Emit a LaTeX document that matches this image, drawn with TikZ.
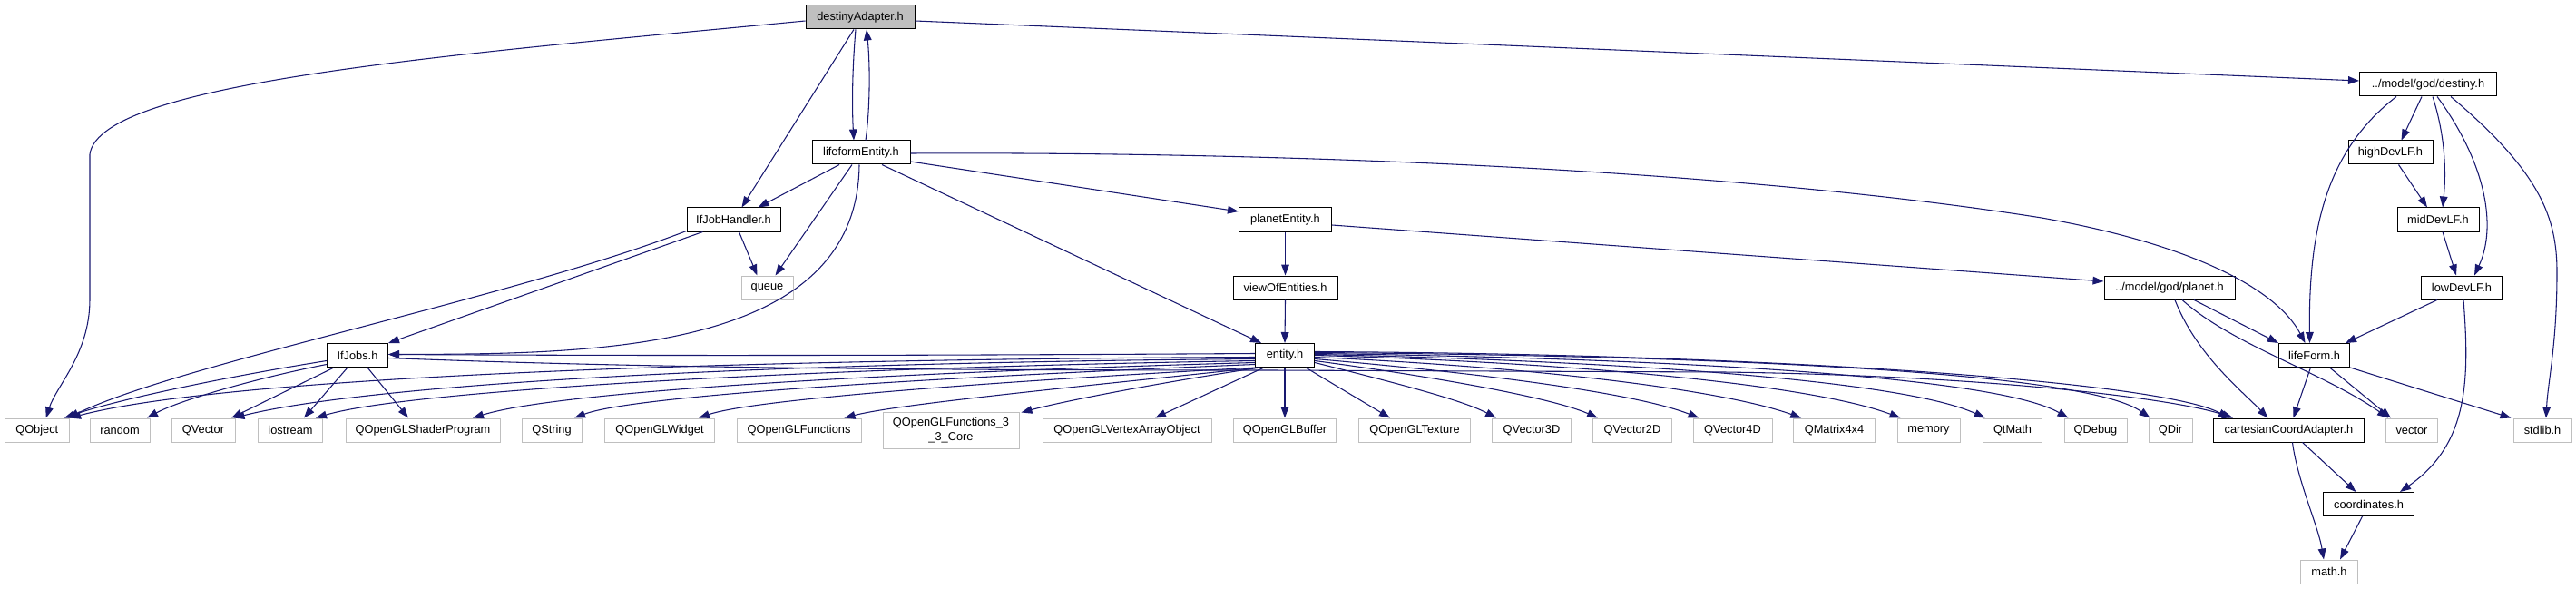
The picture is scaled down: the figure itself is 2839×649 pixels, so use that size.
\documentclass[tikz,border=0pt]{standalone}
\usepackage{fontspec}
\setmainfont{Liberation Sans}
\usetikzlibrary{arrows.meta,calc}
\definecolor{edgeblue}{HTML}{191970}
\definecolor{extgray}{HTML}{BFBFBF}

\begin{document}
\begin{tikzpicture}[x=0.75pt, y=-0.75pt, >={Triangle[length=9pt,width=6.5pt]},
    file/.style={draw=black, line width=0.75pt, minimum height=19.5pt, inner sep=0pt, font=\fontsize{9.6}{11.5}\selectfont},
    sysfile/.style={file, draw=extgray},
    boxw/.style={minimum width=#1*0.75pt},
    dep/.style={->, draw=edgeblue, line width=0.8pt}]
    \useasboundingbox (0,0) rectangle (2839,649);

    \node[file, boxw=120, fill=extgray] (destinyAdapter) at (948,19) {destinyAdapter.h};
    \node[file, boxw=108] (lifeformEntity) at (949,168) {lifeformEntity.h};
    \node[file, boxw=103] (IfJobHandler) at (808.5,242) {IfJobHandler.h};
    \node[sysfile, boxw=57] (queue) at (845.5,317) {queue};
    \node[file, boxw=102] (planetEntity) at (1416.5,242) {planetEntity.h};
    \node[file, boxw=115] (viewOfEntities) at (1416.5,317) {viewOfEntities.h};
    \node[file, boxw=151] (destiny) at (2676,93) {../model/god/destiny.h};
    \node[file, boxw=93] (highDevLF) at (2634.5,168) {highDevLF.h};
    \node[file, boxw=90] (midDevLF) at (2687,242) {midDevLF.h};
    \node[file, boxw=89] (lowDevLF) at (2713,317) {lowDevLF.h};
    \node[file, boxw=144] (planet) at (2391,317) {../model/god/planet.h};
    \node[file, boxw=67] (IfJobs) at (394,391.5) {IfJobs.h};
    \node[file, boxw=65] (entity) at (1416,391.5) {entity.h};
    \node[file, boxw=78] (lifeForm) at (2550.5,391.5) {lifeForm.h};
    \node[file, boxw=166] (cartesianCoordAdapter) at (2522.5,474) {cartesianCoordAdapter.h};
    \node[file, boxw=100] (coordinates) at (2610.5,555.5) {coordinates.h};
    \node[sysfile, boxw=63] (math) at (2567,630) {math.h};
    \node[sysfile, boxw=150, minimum height=30pt, align=center] (QOpenGLFunctionsCore) at (1048,474) {QOpenGLFunctions\_3\\\_3\_Core};
    \foreach \n/\x/\w/\lbl in {QObject/40.8/71.5/QObject, random/132/66/random, QVector/224/70/QVector,
        iostream/320/71/iostream, QOpenGLShaderProgram/466/170/QOpenGLShaderProgram, QString/608/66/QString,
        QOpenGLWidget/727/121/QOpenGLWidget, QOpenGLFunctions/880.5/137/QOpenGLFunctions,
        QOpenGLVertexArrayObject/1242/186/QOpenGLVertexArrayObject, QOpenGLBuffer/1416/113/QOpenGLBuffer,
        QOpenGLTexture/1559/123/QOpenGLTexture, QVector3D/1688/87/QVector3D, QVector2D/1799/87/QVector2D,
        QVector4D/1909.5/87/QVector4D, QMatrix4x4/2021.5/89.5/QMatrix4x4, memory/2125.5/69/memory,
        QtMath/2218/65.5/QtMath, QDebug/2309.5/69/QDebug, QDir/2392/48/QDir, vector/2658/57/vector,
        stdlib/2802/64/stdlib.h}
        \node[sysfile, boxw=\w] (\n) at (\x,474) {\lbl};

    \draw[dep] ($(destinyAdapter.west)+(0,4)$) .. controls (500,60) and (110,90) .. (99,170) -- (99,330)
        .. controls (99,390) and (62,425) .. ($(QObject.north)+(10,0)$);
    \draw[dep] ($(destinyAdapter.south)+(-7,0)$) -- ($(IfJobHandler.north)+(9,0)$);
    \draw[dep] ($(destinyAdapter.south)+(-5,0)$) .. controls (939,80) and (939,120) .. ($(lifeformEntity.north)+(-8,0)$);
    \draw[dep] ($(lifeformEntity.north)+(5,0)$) .. controls (959,120) and (959,70) .. ($(destinyAdapter.south)+(7,0)$);
    \draw[dep] ($(destinyAdapter.east)+(0,4)$) -- ($(destiny.west)+(0,-4)$);

    \draw[dep] ($(lifeformEntity.south)+(-24,0)$) -- ($(IfJobHandler.north)+(27,0)$);
    \draw[dep] ($(lifeformEntity.south)+(-10,0)$) -- ($(queue.north)+(9,0)$);
    \draw[dep] ($(lifeformEntity.south)+(-2,0)$) .. controls (945,390) and (650,390) .. ($(IfJobs.east)+(0,-1)$);
    \draw[dep] ($(lifeformEntity.south)+(23,0)$) -- ($(entity.north)+(-26,0)$);
    \draw[dep] ($(lifeformEntity.east)+(0,10)$) -- ($(planetEntity.west)+(0,-9)$);
    \draw[dep] ($(lifeformEntity.east)+(0,1)$) .. controls (1400,167) and (1900,185) .. (2250,240)
        .. controls (2420,270) and (2510,320) .. ($(lifeForm.north)+(-10,0)$);

    \draw[dep] ($(IfJobHandler.south)+(6,0)$) -- ($(queue.north)+(-11,0)$);
    \draw[dep] ($(IfJobHandler.south west)+(0,-1)$) .. controls (560,330) and (200,400) .. ($(QObject.north)+(34,0)$);
    \draw[dep] ($(IfJobHandler.south)+(-34,0)$) -- (IfJobs.north east);

    \draw[dep] ($(IfJobs.west)+(0,6)$) .. controls (250,415) and (130,440) .. ($(QObject.north)+(30,0)$);
    \draw[dep] ($(IfJobs.west)+(0,10)$) .. controls (290,415) and (200,440) .. ($(random.north)+(30,0)$);
    \draw[dep] ($(IfJobs.south west)+(8,0)$) -- ($(QVector.north)+(31,0)$);
    \draw[dep] ($(IfJobs.south)+(-11,0)$) -- ($(iostream.north)+(15,0)$);
    \draw[dep] ($(IfJobs.south)+(11,0)$) -- ($(QOpenGLShaderProgram.north)+(-16,0)$);
    \draw[dep] ($(IfJobs.east)+(0,3)$) .. controls (700,405) and (1000,408) .. (1400,408) -- (1900,410)
        .. controls (2200,414) and (2400,440) .. ($(cartesianCoordAdapter.north west)+(22,0)$);

    \draw[dep] (planetEntity.south) -- (viewOfEntities.north);
    \draw[dep] ($(planetEntity.east)+(0,6)$) -- ($(planet.west)+(0,-7)$);
    \draw[dep] (viewOfEntities.south) -- (entity.north);

    \draw[dep] ($(entity.west)+(0,-2)$) .. controls (1000,392) and (700,392) .. ($(IfJobs.east)+(0,-1)$);
    \draw[dep] ($(entity.west)+(0,2)$) .. controls (800,396) and (250,415) .. (QObject.north east);
    \draw[dep] ($(entity.west)+(0,4)$) .. controls (800,400) and (400,425) .. ($(QVector.north east)+(-2,0)$);
    \draw[dep] ($(entity.west)+(0,6)$) .. controls (900,405) and (450,430) .. ($(iostream.north east)+(-8,0)$);
    \draw[dep] ($(entity.west)+(0,8)$) .. controls (1000,410) and (620,430) .. ($(QOpenGLShaderProgram.north)+(55,0)$);
    \draw[dep] ($(entity.west)+(0,10)$) .. controls (1050,415) and (700,435) .. ($(QString.north)+(25,0)$);
    \draw[dep] ($(entity.south west)+(2,0)$) .. controls (1100,420) and (830,440) .. ($(QOpenGLWidget.north)+(43,0)$);
    \draw[dep] ($(entity.south west)+(4,0)$) .. controls (1200,425) and (990,445) .. ($(QOpenGLFunctions.north)+(50,0)$);
    \draw[dep] ($(entity.south west)+(6,0)$) .. controls (1300,418) and (1180,440) .. ($(QOpenGLFunctionsCore.north east)+(2,1)$);
    \draw[dep] ($(entity.south west)+(10,0)$) -- ($(QOpenGLVertexArrayObject.north)+(31,0)$);
    \draw[dep] (entity.south) -- (QOpenGLBuffer.north);
    \draw[dep] ($(entity.south east)+(-10,0)$) -- ($(QOpenGLTexture.north west)+(35,0)$);
    \draw[dep] ($(entity.east)+(0,8)$) .. controls (1530,420) and (1610,440) .. ($(QVector3D.north west)+(5,0)$);
    \draw[dep] ($(entity.east)+(0,6)$) .. controls (1580,415) and (1710,438) .. ($(QVector2D.north west)+(6,0)$);
    \draw[dep] ($(entity.east)+(0,4)$) .. controls (1620,410) and (1800,432) .. ($(QVector4D.north west)+(7,0)$);
    \draw[dep] ($(entity.east)+(0,2)$) .. controls (1700,405) and (1900,430) .. ($(QMatrix4x4.north west)+(9,0)$);
    \draw[dep] (entity.east) .. controls (1750,400) and (2000,425) .. ($(memory.north west)+(4,0)$);
    \draw[dep] ($(entity.east)+(0,-1)$) .. controls (1800,398) and (2100,420) .. ($(QtMath.north west)+(3,0)$);
    \draw[dep] ($(entity.east)+(0,-2)$) .. controls (1850,395) and (2200,415) .. ($(QDebug.north west)+(5,0)$);
    \draw[dep] ($(entity.east)+(0,-3)$) .. controls (1900,392) and (2300,410) .. ($(QDir.north west)+(2,0)$);
    \draw[dep] ($(entity.east)+(0,-4)$) .. controls (1950,390) and (2380,420) .. ($(cartesianCoordAdapter.north west)+(18,0)$);

    \draw[dep] ($(destiny.south west)+(41,0)$) .. controls (2565,165) and (2544,250) .. ($(lifeForm.north)+(-5,0)$);
    \draw[dep] ($(destiny.south)+(-7,0)$) -- ($(highDevLF.north)+(12,0)$);
    \draw[dep] ($(destiny.south)+(5,0)$) .. controls (2695,150) and (2696,190) .. ($(midDevLF.north)+(5,0)$);
    \draw[dep] ($(destiny.south)+(10,0)$) .. controls (2740,180) and (2752,250) .. ($(lowDevLF.north)+(14,0)$);
    \draw[dep] ($(destiny.south east)+(-51,0)$) .. controls (2800,190) and (2818,240) .. (2818,300)
        .. controls (2818,380) and (2808,420) .. ($(stdlib.north)+(4,0)$);
    \draw[dep] ($(highDevLF.south)+(9,0)$) -- ($(midDevLF.north)+(-12,0)$);
    \draw[dep] ($(midDevLF.south)+(5,0)$) -- ($(lowDevLF.north)+(-6,0)$);
    \draw[dep] ($(lowDevLF.south)+(-27,0)$) -- ($(lifeForm.north east)+(-5,0)$);
    \draw[dep] ($(lowDevLF.south)+(2,0)$) .. controls (2722,420) and (2720,490) .. ($(coordinates.north east)+(-16,0)$);

    \draw[dep] ($(planet.south)+(27,0)$) -- (lifeForm.north west);
    \draw[dep] ($(planet.south)+(6,0)$) .. controls (2420,390) and (2470,430) .. ($(cartesianCoordAdapter.north)+(-23,0)$);
    \draw[dep] ($(planet.south)+(14,0)$) .. controls (2460,380) and (2560,410) .. ($(vector.north west)+(3,0)$);

    \draw[dep] ($(lifeForm.south)+(-4,0)$) -- ($(cartesianCoordAdapter.north)+(5,0)$);
    \draw[dep] ($(lifeForm.south)+(17,0)$) -- ($(vector.north west)+(6,0)$);
    \draw[dep] (lifeForm.south east) -- ($(stdlib.north west)+(-2,0)$);
    \draw[dep] ($(cartesianCoordAdapter.south)+(15,0)$) -- ($(coordinates.north)+(-14,0)$);
    \draw[dep] ($(cartesianCoordAdapter.south)+(4,0)$) .. controls (2532,530) and (2555,580) .. ($(math.north)+(-6,0)$);
    \draw[dep] ($(coordinates.south)+(-7,0)$) -- ($(math.north)+(12,0)$);
\end{tikzpicture}
\end{document}
